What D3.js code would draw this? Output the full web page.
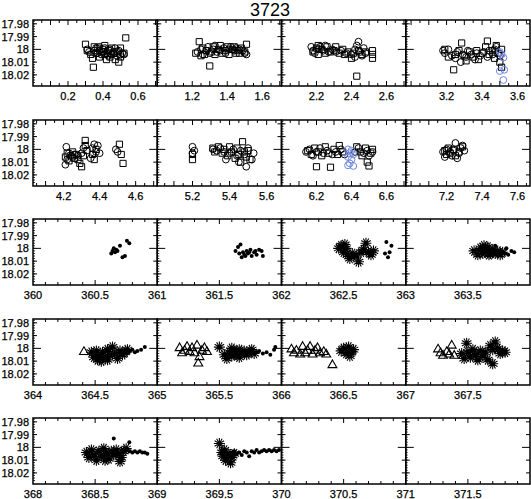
<!DOCTYPE html>
<html>
<head>
<meta charset="utf-8">
<script src="https://cdn.jsdelivr.net/npm/d3@7"></script>
<style>
  body { margin: 0; background: #fff; }
  svg text { font-family: "Liberation Sans", Arial, sans-serif; fill: #000; }
  svg text.tick { stroke: #000; stroke-width: 0.25px; }
</style>
</head>
<body>
<svg id="chart" width="531" height="499"></svg>
<script>
// ---- data ----
const title = "3723";
const yTicks = [17.98, 17.99, 18, 18.01, 18.02];

// row 1
const r1c1Squares = [[0.30,17.996],[0.31,18.001],[0.33,18.004],[0.34,18.007],[0.345,18.014],[0.36,18.003],[0.37,17.999],[0.38,18.006],[0.39,18.002],[0.40,18.000],[0.41,18.004],[0.42,18.008],[0.43,18.001],[0.44,18.006],[0.45,17.999],[0.46,18.003],[0.47,18.008],[0.48,18.002],[0.49,18.010],[0.50,18.006],[0.50,17.999],[0.53,17.991],[0.52,18.003],[0.35,17.998],[0.41,17.997]];
const r1c1Circles = [[0.31,18.000],[0.32,18.002],[0.35,18.001],[0.36,17.999],[0.37,18.003],[0.38,17.998],[0.39,18.004],[0.40,18.002],[0.41,17.999],[0.42,18.003],[0.43,18.005],[0.44,18.000],[0.45,18.004],[0.46,18.002],[0.47,17.999],[0.48,18.005],[0.49,18.001],[0.50,18.004],[0.51,18.003],[0.52,18.004],[0.38,18.001],[0.44,18.003]];
const r1c2Squares = [[1.22,18.003],[1.24,17.994],[1.25,18.005],[1.26,17.999],[1.27,18.004],[1.28,18.001],[1.30,18.013],[1.31,18.002],[1.32,17.998],[1.33,18.004],[1.35,18.000],[1.36,17.997],[1.37,18.003],[1.39,18.001],[1.40,17.998],[1.41,18.004],[1.43,18.000],[1.44,17.998],[1.45,18.003],[1.46,18.001],[1.47,18.003],[1.48,17.999],[1.50,18.002],[1.51,17.996]];
const r1c2Circles = [[1.23,18.002],[1.25,18.000],[1.26,18.004],[1.28,18.001],[1.29,17.998],[1.30,18.003],[1.32,18.000],[1.33,17.997],[1.34,18.002],[1.36,18.001],[1.38,17.999],[1.39,18.003],[1.41,18.000],[1.42,17.998],[1.44,18.001],[1.45,17.999],[1.47,18.000],[1.49,18.001],[1.50,18.003],[1.51,18.004]];
const r1c3Squares = [[2.18,18.002],[2.20,17.999],[2.21,18.004],[2.23,18.000],[2.25,18.003],[2.26,17.998],[2.28,18.002],[2.30,18.001],[2.31,17.998],[2.33,18.003],[2.35,18.000],[2.36,18.004],[2.38,18.002],[2.40,18.007],[2.41,18.003],[2.43,18.021],[2.44,18.001],[2.46,18.004],[2.48,18.002],[2.52,18.001],[2.52,18.004],[2.52,18.007],[2.21,17.997]];
const r1c3Circles = [[2.17,17.998],[2.18,18.001],[2.19,18.003],[2.21,18.000],[2.22,17.998],[2.24,18.001],[2.25,17.997],[2.27,18.002],[2.29,18.000],[2.31,18.002],[2.34,18.001],[2.37,18.003],[2.40,18.004],[2.42,18.000],[2.43,17.997],[2.44,17.994],[2.45,18.002],[2.46,18.005],[2.47,17.999],[2.48,18.003],[2.42,18.006]];
const r1c4Squares = [[3.19,18.000],[3.21,18.006],[3.24,18.016],[3.25,18.004],[3.27,18.001],[3.285,17.995],[3.30,18.005],[3.31,18.009],[3.33,18.002],[3.35,18.006],[3.37,18.001],[3.38,18.008],[3.40,18.003],[3.42,17.998],[3.43,17.9935],[3.44,18.004],[3.46,18.001],[3.47,18.007],[3.48,17.997],[3.49,18.003],[3.50,18.010],[3.51,18.014],[3.51,18.000]];
const r1c4Circles = [[3.18,18.001],[3.19,18.003],[3.21,18.000],[3.23,18.005],[3.25,18.007],[3.26,18.002],[3.28,18.010],[3.29,18.004],[3.31,18.006],[3.32,18.001],[3.34,18.004],[3.36,18.008],[3.37,18.003],[3.39,18.005],[3.41,18.002],[3.43,18.006],[3.44,18.001],[3.46,18.004],[3.47,18.000],[3.48,17.998],[3.50,18.005]];
const r1c4Blue = [[3.50,18.002],[3.51,18.004],[3.52,18.0065],[3.50,18.017],[3.525,18.016],[3.52,18.024]];

// row 2
const r2c1Squares = [[4.21,18.006],[4.22,18.003],[4.23,18.009],[4.24,18.005],[4.25,18.002],[4.26,18.007],[4.27,18.004],[4.28,18.008],[4.29,18.011],[4.30,18.0136],[4.31,18.005],[4.32,17.993],[4.32,17.997],[4.33,18.001],[4.36,18.004],[4.37,18.008],[4.38,18.000],[4.51,17.996],[4.52,18.004],[4.53,18.011]];
const r2c1Circles = [[4.21,18.012],[4.215,17.998],[4.22,18.008],[4.23,18.003],[4.25,18.006],[4.26,18.004],[4.28,18.005],[4.30,18.003],[4.31,17.999],[4.35,18.007],[4.36,17.999],[4.37,17.996],[4.38,18.002],[4.39,17.997],[4.40,18.003],[4.49,18.000],[4.50,18.002]];
const r2c2Squares = [[5.20,18.008],[5.20,18.004],[5.31,17.999],[5.32,18.002],[5.34,17.998],[5.36,18.003],[5.37,18.000],[5.39,18.005],[5.40,17.998],[5.41,18.002],[5.43,18.007],[5.44,17.999],[5.45,18.004],[5.46,18.010],[5.47,17.994],[5.48,18.002],[5.49,18.006],[5.50,18.001],[5.51,18.008]];
const r2c2Circles = [[5.20,17.998],[5.21,18.001],[5.20,18.003],[5.31,18.000],[5.33,18.001],[5.35,17.999],[5.37,18.002],[5.38,18.008],[5.40,18.003],[5.42,18.000],[5.44,18.005],[5.45,18.010],[5.46,18.001],[5.48,18.004],[5.49,18.0136],[5.50,17.999],[5.52,18.008],[5.53,18.003]];
const r2c3Squares = [[6.15,18.001],[6.17,18.004],[6.19,17.999],[6.20,18.0136],[6.21,18.002],[6.23,18.005],[6.25,17.998],[6.27,18.003],[6.28,18.014],[6.30,18.000],[6.32,18.004],[6.33,17.997],[6.35,18.002],[6.43,17.998],[6.45,18.002],[6.46,18.005],[6.48,17.999],[6.49,18.010],[6.50,18.013],[6.51,18.003],[6.52,18.000]];
const r2c3Circles = [[6.14,18.002],[6.16,18.000],[6.18,18.005],[6.20,18.002],[6.22,17.999],[6.24,18.003],[6.26,18.001],[6.29,18.004],[6.31,18.002],[6.34,18.000],[6.36,18.004],[6.42,18.002],[6.44,17.999],[6.47,18.003],[6.49,18.001],[6.50,18.005],[6.52,18.002]];
const r2c3Blue = [[6.38,18.000],[6.39,18.003],[6.40,18.001],[6.38,18.006],[6.40,18.008],[6.39,18.011],[6.41,18.013],[6.38,18.0125],[6.41,18.004]];
const r2c4Squares = [[7.19,18.001],[7.20,18.004],[7.21,17.999],[7.22,18.003],[7.24,18.000],[7.25,18.005],[7.27,18.002],[7.29,17.998]];
const r2c4Circles = [[7.18,18.002],[7.19,18.006],[7.20,18.000],[7.22,18.002],[7.23,18.005],[7.24,18.001],[7.25,17.995],[7.26,18.007],[7.27,18.003],[7.28,17.999],[7.29,17.997],[7.30,18.001]];

// row 3
const r3c1Dots = [[360.63,18.004],[360.64,18.002],[360.65,18.000],[360.66,18.003],[360.67,18.001],[360.68,18.002],[360.70,17.998],[360.72,18.007],[360.74,18.006],[360.756,17.994],[360.775,17.996]];
const r3c2Dots = [[361.63,18.002],[361.65,17.999],[361.66,18.004],[361.67,17.997],[361.68,18.007],[361.69,18.003],[361.70,18.005],[361.72,18.002],[361.73,18.004],[361.75,18.001],[361.76,18.006],[361.78,18.003],[361.79,18.002],[361.80,18.005],[361.82,18.001],[361.84,18.002],[361.85,18.006],[361.71,18.006],[361.74,18.003]];
const r3c3Stars = [[362.46,18.000],[362.48,17.998],[362.50,18.003],[362.52,18.000],[362.53,18.005],[362.55,18.008],[362.57,18.004],[362.60,18.006],[362.62,18.0105],[362.64,18.003],[362.66,18.001],[362.68,17.996],[362.70,18.003],[362.72,18.005],[362.74,18.002],[362.51,17.997]];
const r3c3Dots = [[362.844,17.995],[362.885,17.998],[362.833,18.004],[362.87,18.003],[362.857,18.007]];
const r3c4Stars = [[363.55,18.002],[363.58,18.005],[363.60,18.000],[363.62,18.004],[363.64,18.002],[363.66,17.999],[363.68,18.004],[363.70,18.001],[363.72,18.004],[363.74,18.002],[363.76,18.005],[363.78,18.003],[363.67,18.005],[363.63,17.998]];
const r3c4Dots = [[363.72,17.998],[363.81,18.000],[363.85,18.002],[363.873,18.003],[363.825,18.005],[363.80,18.004]];

// row 4
const r4c1Tris = [[364.41,18.002]];
const r4c1Stars = [[364.47,18.003],[364.49,18.007],[364.51,18.002],[364.53,18.006],[364.55,18.010],[364.56,18.003],[364.58,18.007],[364.60,18.001],[364.62,18.005],[364.64,17.999],[364.66,18.004],[364.68,18.008],[364.70,18.002],[364.72,18.005],[364.74,18.003],[364.76,18.001],[364.60,18.009],[364.52,18.009]];
const r4c1Dots = [[364.76,18.003],[364.78,18.002],[364.80,18.001],[364.82,18.003],[364.84,18.002],[364.87,18.001],[364.90,17.999]];
const r4c2Tris = [[365.18,17.999],[365.20,18.003],[365.22,18.001],[365.24,17.998],[365.26,18.002],[365.28,17.999],[365.30,18.003],[365.32,17.997],[365.34,18.006],[365.33,18.011],[365.36,18.001],[365.38,17.999],[365.40,18.002]];
const r4c2Stars = [[365.50,17.999],[365.54,18.005],[365.56,18.008],[365.58,18.003],[365.60,18.006],[365.62,18.002],[365.64,18.005],[365.66,18.001],[365.68,18.004],[365.70,18.002],[365.72,18.005],[365.74,18.003],[365.76,18.001],[365.78,18.004],[365.60,18.000],[365.66,18.007]];
const r4c2Dots = [[365.80,18.003],[365.82,18.002],[365.85,18.004],[365.88,18.003],[365.91,18.005],[365.94,18.001],[365.95,17.999]];
const r4c3Tris = [[366.08,18.000],[366.10,18.003],[366.12,18.001],[366.15,18.004],[366.17,17.998],[366.19,18.003],[366.21,18.001],[366.23,17.998],[366.25,18.004],[366.27,18.001],[366.29,17.999],[366.31,18.003],[366.34,18.002],[366.36,18.004],[366.41,18.0123]];
const r4c3Stars = [[366.48,18.002],[366.50,18.000],[366.52,18.004],[366.54,17.999],[366.56,18.003],[366.58,18.001],[366.55,18.006]];
const r4c4Tris = [[367.26,18.000],[367.28,18.003],[367.30,18.005],[367.33,18.002],[367.35,18.004],[367.37,17.997],[367.39,18.005]];
const r4c4Stars = [[367.45,18.004],[367.47,18.008],[367.49,17.996],[367.50,18.003],[367.52,18.007],[367.54,18.001],[367.56,18.005],[367.58,18.009],[367.60,18.002],[367.62,18.006],[367.64,18.003],[367.66,18.009],[367.68,17.998],[367.70,18.001],[367.72,17.995],[367.74,18.000],[367.76,18.004],[367.78,18.002],[367.80,18.003],[367.70,18.012]];

// row 5
const r5c1Stars = [[368.43,18.004],[368.45,18.008],[368.47,18.002],[368.49,18.006],[368.51,18.010],[368.53,18.003],[368.55,18.007],[368.57,18.001],[368.59,18.005],[368.61,18.009],[368.63,18.003],[368.65,18.006],[368.67,18.002],[368.69,18.005],[368.71,18.008],[368.73,18.003],[368.75,18.001],[368.58,18.010],[368.70,18.011]];
const r5c1Dots = [[368.65,17.993],[368.775,17.996],[368.76,18.002],[368.78,18.003],[368.80,18.004],[368.82,18.003],[368.84,18.004],[368.86,18.003],[368.88,18.004],[368.90,18.004],[368.92,18.005]];
const r5c2Stars = [[369.50,17.997],[369.52,18.004],[369.53,18.007],[369.55,18.010],[369.57,18.005],[369.59,18.012],[369.60,18.008],[369.62,18.005],[369.54,18.002]];
const r5c2Dots = [[369.60,18.004],[369.62,18.003],[369.64,18.005],[369.66,18.004],[369.68,18.006],[369.70,18.003],[369.72,18.004],[369.74,18.007],[369.76,18.003],[369.78,18.004],[369.80,18.002],[369.82,18.004],[369.84,18.003],[369.86,18.002],[369.88,18.003],[369.90,18.002],[369.92,18.003],[369.94,18.002],[369.96,18.003],[369.98,18.002]];

// x domains and tick labels per row
const topDomains = [[[0, 0.71], [1, 1.71], [2, 2.71], [2.97, 3.67]],
                    [[4.03, 4.72], [5.01, 5.68], [6.0, 6.71], [6.97, 7.67]]];
const topLabels = [[[0.2, 0.4, 0.6], [1.2, 1.4, 1.6], [2.2, 2.4, 2.6], [3.2, 3.4, 3.6]],
                   [[4.2, 4.4, 4.6], [5.2, 5.4, 5.6], [6.2, 6.4, 6.6], [7.2, 7.4, 7.6]]];
const dayStarts = [[360, 361, 362, 363], [364, 365, 366, 367], [368, 369, 370, 371]];

const panelSeries = [
  [[{d: r1c1Squares, t: "sq"}, {d: r1c1Circles, t: "ci"}],
   [{d: r1c2Squares, t: "sq"}, {d: r1c2Circles, t: "ci"}],
   [{d: r1c3Squares, t: "sq"}, {d: r1c3Circles, t: "ci"}],
   [{d: r1c4Squares, t: "sq"}, {d: r1c4Circles, t: "ci"}, {d: r1c4Blue, t: "ci", c: "blue"}]],
  [[{d: r2c1Squares, t: "sq"}, {d: r2c1Circles, t: "ci"}],
   [{d: r2c2Squares, t: "sq"}, {d: r2c2Circles, t: "ci"}],
   [{d: r2c3Squares, t: "sq"}, {d: r2c3Circles, t: "ci"}, {d: r2c3Blue, t: "ci", c: "blue"}],
   [{d: r2c4Squares, t: "sq"}, {d: r2c4Circles, t: "ci"}]],
  [[{d: r3c1Dots, t: "dot"}],
   [{d: r3c2Dots, t: "dot"}],
   [{d: r3c3Stars, t: "st"}, {d: r3c3Dots, t: "dot"}],
   [{d: r3c4Stars, t: "st"}, {d: r3c4Dots, t: "dot"}]],
  [[{d: r4c1Tris, t: "tri"}, {d: r4c1Stars, t: "st"}, {d: r4c1Dots, t: "dot"}],
   [{d: r4c2Tris, t: "tri"}, {d: r4c2Stars, t: "st"}, {d: r4c2Dots, t: "dot"}],
   [{d: r4c3Tris, t: "tri"}, {d: r4c3Stars, t: "st"}],
   [{d: r4c4Tris, t: "tri"}, {d: r4c4Stars, t: "st"}]],
  [[{d: r5c1Stars, t: "st"}, {d: r5c1Dots, t: "dot"}],
   [{d: r5c2Stars, t: "st"}, {d: r5c2Dots, t: "dot"}],
   [], []]
];

// ---- layout ----
const svg = d3.select("#chart");
const left = 33, right = 530, panelH = 66;
const rowTops = [20, 120, 219, 319, 418];
const colW = (right - left) / 4;
const blue = "#6f87e6";

svg.append("text")
  .attr("x", 270).attr("y", 16)
  .attr("text-anchor", "middle")
  .style("font-size", "18px")
  .text(title);

const asterisk = (() => {
  const r = 5.5, n = 6;
  let p = "";
  for (let i = 0; i < n; i++) {
    const a = Math.PI * i / n;
    p += `M${(-r*Math.cos(a)).toFixed(2)},${(-r*Math.sin(a)).toFixed(2)}L${(r*Math.cos(a)).toFixed(2)},${(r*Math.sin(a)).toFixed(2)}`;
  }
  return p;
})();

function fmt(v) { return d3.format("~g")(+v.toFixed(4)); }

for (let r = 0; r < 5; r++) {
  for (let c = 0; c < 4; c++) {
    const x0 = left + c * colW, x1 = left + (c + 1) * colW;
    const top = rowTops[r], bot = top + panelH;
    let domain, labels, minorStep, majorStep;
    if (r < 2) {
      domain = topDomains[r][c];
      labels = topLabels[r][c];
      minorStep = 0.05; majorStep = 0.1;
    } else {
      const s = dayStarts[r - 2][c];
      domain = [s, s + 1];
      labels = [s, s + 0.5];
      minorStep = 0.1; majorStep = 0.5;
    }
    const x = d3.scaleLinear().domain(domain).range([x0, x1]);
    const y = d3.scaleLinear().domain([17.977, 18.0287]).range([top, bot]);
    const g = svg.append("g");

    // clip
    const clipId = `clip${r}${c}`;
    g.append("clipPath").attr("id", clipId)
      .append("rect").attr("x", x0).attr("y", top).attr("width", x1 - x0).attr("height", panelH);
    const marks = g.append("g").attr("clip-path", `url(#${clipId})`);

    // points
    panelSeries[r][c].forEach(s => {
      const col = s.c === "blue" ? blue : "#000";
      const sel = marks.selectAll(null).data(s.d).enter();
      if (s.t === "ci") {
        sel.append("circle").attr("cx", d => x(d[0])).attr("cy", d => y(d[1]))
          .attr("r", 3.4).attr("fill", "none").attr("stroke", col).attr("stroke-width", 1);
      } else if (s.t === "sq") {
        sel.append("path").attr("transform", d => `translate(${x(d[0])},${y(d[1])})`)
          .attr("d", d3.symbol(d3.symbolSquare, 38)())
          .attr("fill", "none").attr("stroke", col).attr("stroke-width", 1);
      } else if (s.t === "tri") {
        sel.append("path").attr("transform", d => `translate(${x(d[0])},${y(d[1]) + 1})`)
          .attr("d", d3.symbol(d3.symbolTriangle, 34)())
          .attr("fill", "none").attr("stroke", col).attr("stroke-width", 1.1);
      } else if (s.t === "st") {
        sel.append("path").attr("transform", d => `translate(${x(d[0])},${y(d[1])})`)
          .attr("d", asterisk).attr("fill", "none").attr("stroke", col).attr("stroke-width", 1.1);
      } else {
        sel.append("circle").attr("cx", d => x(d[0])).attr("cy", d => y(d[1]))
          .attr("r", 2).attr("fill", col);
      }
    });

    // x ticks (top and bottom)
    const t0 = Math.ceil(domain[0] / minorStep - 1e-6);
    const t1 = Math.floor(domain[1] / minorStep + 1e-6);
    for (let k = t0; k <= t1; k++) {
      const v = k * minorStep;
      const isMajor = Math.abs(v / majorStep - Math.round(v / majorStep)) < 1e-6;
      const len = isMajor ? 5 : 3;
      const px = x(v);
      if (px <= x0 + 0.5 || px >= x1 - 0.5) continue;
      g.append("line").attr("x1", px).attr("x2", px).attr("y1", bot).attr("y2", bot - len)
        .attr("stroke", "#000").attr("stroke-width", 1);
      g.append("line").attr("x1", px).attr("x2", px).attr("y1", top).attr("y2", top + len)
        .attr("stroke", "#000").attr("stroke-width", 1);
    }
    labels.forEach(v => {
      g.append("text").attr("class", "tick").attr("x", x(v)).attr("y", bot + 13.5)
        .attr("text-anchor", "middle").style("font-size", "11px")
        .text(fmt(v));
    });

    // y ticks (left and right)
    yTicks.forEach(v => {
      const len = v === 18 ? 8 : 4;
      g.append("line").attr("x1", x0).attr("x2", x0 + len).attr("y1", y(v)).attr("y2", y(v))
        .attr("stroke", "#000").attr("stroke-width", 1);
      g.append("line").attr("x1", x1).attr("x2", x1 - len).attr("y1", y(v)).attr("y2", y(v))
        .attr("stroke", "#000").attr("stroke-width", 1);
    });
    for (let k = 0; k <= 25; k++) {
      const v = 17.978 + k * 0.002;
      if (v > 18.028) break;
      g.append("line").attr("x1", x0).attr("x2", x0 + 2).attr("y1", y(v)).attr("y2", y(v))
        .attr("stroke", "#000").attr("stroke-width", 0.8);
    }
    if (c === 0) {
      yTicks.forEach(v => {
        g.append("text").attr("class", "tick").attr("x", 29).attr("y", y(v) + 4)
          .attr("text-anchor", "end").style("font-size", "11px")
          .text(fmt(v));
      });
    }

    // frame
    g.append("rect").attr("x", x0).attr("y", top).attr("width", x1 - x0).attr("height", panelH)
      .attr("fill", "none").attr("stroke", "#000").attr("stroke-width", 1.5);
  }
}
</script>
</body>
</html>
